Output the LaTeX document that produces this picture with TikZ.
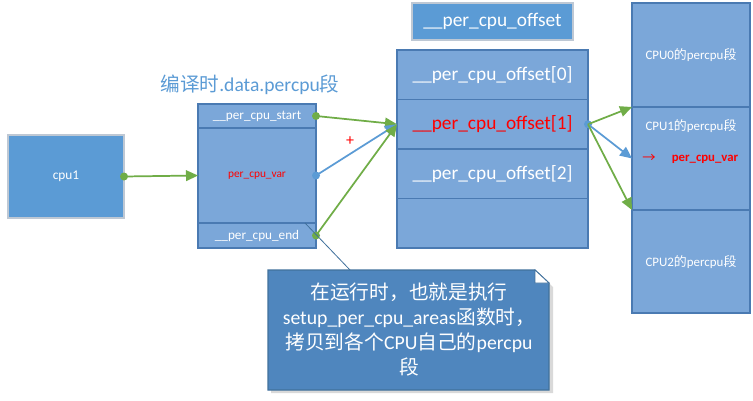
\documentclass[tikz,border=0pt]{standalone}
\usepackage{fontspec}
\setmainfont{Carlito}
\newfontfamily\cjk{Noto Sans CJK SC}
\usetikzlibrary{arrows.meta,calc}
\definecolor{cellfill}{RGB}{123,167,217}
\definecolor{cellline}{RGB}{74,122,178}
\definecolor{plainfill}{RGB}{91,155,213}
\definecolor{plainline}{RGB}{190,200,212}
\definecolor{notefill}{RGB}{79,134,190}
\definecolor{noteline}{RGB}{65,113,156}
\definecolor{gline}{RGB}{112,173,71}
\definecolor{bline}{RGB}{91,155,213}
\definecolor{titleblue}{RGB}{91,155,213}
\definecolor{redtxt}{RGB}{255,0,0}
\tikzset{
  cell/.style={draw=cellline, fill=cellfill, line width=1.2pt, inner sep=0pt, outer sep=0pt, anchor=north west, text=white},
  plainbox/.style={draw=plainline, fill=plainfill, line width=0.8pt, inner sep=0pt, outer sep=0pt, anchor=north west, text=white},
  garrow/.style={draw=gline, line width=1.3pt, -{Triangle[length=9pt,width=8pt]}},
  barrow/.style={draw=bline, line width=1.3pt, -{Triangle[length=9pt,width=8pt]}},
  gdot/.style={circle, fill=gline, inner sep=0pt, minimum size=6pt},
  bdot/.style={circle, fill=bline, inner sep=0pt, minimum size=6pt},
  smalltxt/.style={font=\fontsize{9.9}{12}\selectfont},
  rowtxt/.style={font=\fontsize{14.5}{17}\selectfont},
  cputxt/.style={font=\fontsize{9.7}{11}\selectfont, text=white},
}
\begin{document}
\begin{tikzpicture}[x=0.75pt,y=-0.75pt]
\useasboundingbox[fill=white] (0,0) rectangle (753,400);

% cpu1 box
\node[plainbox, minimum width=87pt, minimum height=62.25pt, font=\fontsize{10}{12}\selectfont] (cpuA) at (8,135) {cpu1};

% title
\node[text=titleblue, font=\fontsize{14.7}{16}\selectfont] (title) at (250,85) {{\cjk 编译时}.data.percpu{\cjk 段}};

% compile-time percpu section
\node[cell, minimum width=88.5pt, minimum height=18pt, smalltxt] (start) at (198,104) {\_\_per\_cpu\_start};
\node[cell, minimum width=88.5pt, minimum height=71.25pt, text=redtxt, font=\fontsize{8.5}{10}\selectfont] (var) at (198,128) {per\_cpu\_var};
\node[cell, minimum width=88.5pt, minimum height=18.75pt, smalltxt] (end) at (198,223) {\_\_per\_cpu\_end};

% offset label
\node[plainbox, minimum width=120.75pt, minimum height=27.75pt, rowtxt] (offlabel) at (412,3) {\_\_per\_cpu\_offset};

% offset array
\node[cell, minimum width=143.25pt, minimum height=37.125pt, rowtxt] (off0) at (397,50) {\_\_per\_cpu\_offset[0]};
\node[cell, minimum width=143.25pt, minimum height=37.125pt, rowtxt, text=redtxt] (off1) at (397,99.5) {\_\_per\_cpu\_offset[1]};
\node[cell, minimum width=143.25pt, minimum height=37.125pt, rowtxt] (off2) at (397,149) {\_\_per\_cpu\_offset[2]};
\node[cell, minimum width=143.25pt, minimum height=37.125pt] (off3) at (397,198.5) {};

% per-cpu areas
\node[cell, minimum width=88.5pt, minimum height=78pt] (cpu0) at (632,3) {};
\node[cell, minimum width=88.5pt, minimum height=77.25pt] (cpuB) at (632,107) {};
\node[cell, minimum width=88.5pt, minimum height=77.25pt] (cpu2) at (632,210) {};
\node[cputxt] (t0) at (691,55) {CPU0{\cjk 的}percpu{\cjk 段}};
\node[cputxt] (t1) at (691,126) {CPU1{\cjk 的}percpu{\cjk 段}};
\node[cputxt] (t2) at (691,262) {CPU2{\cjk 的}percpu{\cjk 段}};
\node[text=redtxt, font=\cjk\fontsize{10}{11}\selectfont] (rarrow) at (649,158) {→};
\node[text=redtxt, font=\bfseries\fontsize{9.6}{11}\selectfont] (rvar) at (705,159) {per\_cpu\_var};

% connectors left
\node[gdot] (d0) at (cpuA.east) {};
\draw[garrow] (cpuA.east) -- (var.west);
\node[gdot] (d1) at (start.east) {};
\node[bdot] (d2) at (var.east) {};
\node[gdot] (d3) at (end.east) {};
\draw[garrow] (start.east) -- (off1.west);
\draw[barrow] (var.east) -- (off1.west);
\draw[garrow] (end.east) -- (off1.west);
\node[text=redtxt, font=\fontsize{12}{12}\selectfont] (plus) at (350,141) {+};

% connectors right
\node[bdot] (d4) at (off1.east) {};
\draw[garrow] (off1.east) -- (cpu0.south west);
\draw[barrow] (off1.east) -- (cpuB.west);
\draw[garrow] (off1.east) -- (cpu2.north west);

% callout
\coordinate (tailA) at (305,223);
\coordinate (tailB) at (350,270);
\draw[noteline, line width=0.6pt] (tailA) -- (tailB);
\fill[black!15] (271,274) -- (539,274) -- (553,287) -- (553,393) -- (271,393) -- cycle;
\filldraw[fill=notefill, draw=noteline, line width=0.8pt] (268,270) -- (535,270) -- (549,283) -- (549,390) -- (268,390) -- cycle;
\filldraw[fill=white, draw=noteline, line width=0.6pt] (535,270) -- (549,283) -- (535,283) -- cycle;
\node[text=white, align=center, font=\fontsize{14.8}{18.75}\selectfont] (note) at (409,330) {{\cjk 在运行时，也就是执行}\\setup\_per\_cpu\_areas{\cjk 函数时，}\\{\cjk 拷贝到各个}CPU{\cjk 自己的}percpu\\{\cjk 段}};
\end{tikzpicture}
\end{document}
